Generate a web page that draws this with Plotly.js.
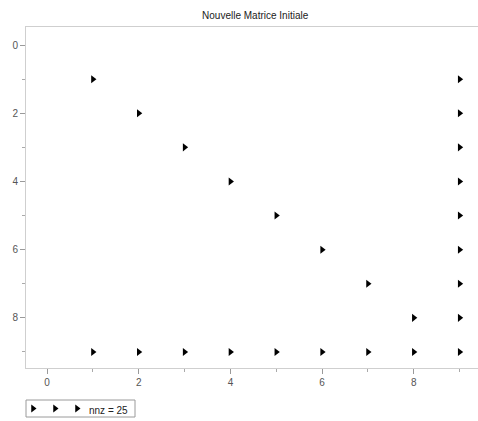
<!DOCTYPE html>
<html>
<head>
<meta charset="utf-8">
<script src="https://cdn.plot.ly/plotly-3.0.1.min.js"></script>
<style>html,body{margin:0;padding:0;background:#fff;}#chart{width:478px;height:421px;}</style>
</head>
<body>
<div id="chart"></div>
<script>
// Nonzero entries (column index, row index)
const cols = [1,2,3,4,5,6,7,8, 9,9,9,9,9,9,9,9,9, 1,2,3,4,5,6,7,8];
const rows = [1,2,3,4,5,6,7,8, 1,2,3,4,5,6,7,8,9, 9,9,9,9,9,9,9,9];
const titleText = 'Nouvelle Matrice Initiale';
const legendLabel = 'nnz = ' + cols.length;
const legendGlyphs = [0,1,2];
const xTickVals = [0,2,4,6,8];
const yTickVals = [0,2,4,6,8];

const W = 478, H = 421;
const mL = 26, mR = 0, mT = 27, mB = 4;
const plotW = W - mL - mR, plotH = H - mT - mB;
const mainBottomPx = 368, legTopPx = 400, legBotPx = 417, legRightPx = 135;

const font = 'Liberation Sans, Arial, sans-serif';

const traces = [
  {
    type: 'scatter', mode: 'markers', x: cols, y: rows,
    marker: {symbol: 'triangle-right', size: 7, color: '#000'},
    xaxis: 'x', yaxis: 'y', showlegend: false, hoverinfo: 'x+y'
  },
  {
    type: 'scatter', mode: 'markers', x: legendGlyphs, y: legendGlyphs.map(() => 0),
    marker: {symbol: 'triangle-right', size: 7, color: '#000'},
    xaxis: 'x2', yaxis: 'y2', showlegend: false, hoverinfo: 'skip'
  }
];

const axisCommon = {
  showgrid: false, zeroline: false, showline: true, linecolor: '#cfcfcf', linewidth: 1,
  ticks: 'outside', ticklen: 5, tickcolor: '#9a9a9a', tickwidth: 1,
  tickfont: {family: font, size: 10, color: '#555'},
  tickmode: 'array'
};

const layout = {
  width: W, height: H,
  margin: {l: mL, r: mR, t: mT, b: mB, pad: 0},
  paper_bgcolor: '#fff', plot_bgcolor: '#fff',
  showlegend: false,
  title: {text: titleText, font: {family: font, size: 10, color: '#222'},
          x: 0.507, xanchor: 'center', y: 1 - 15/H, yanchor: 'middle', xref: 'paper', yref: 'container'},
  xaxis: Object.assign({}, axisCommon, {
    range: [-0.46, 9.4], domain: [0, 1], anchor: 'y', mirror: true,
    tickvals: xTickVals, ticktext: xTickVals.map(String),
    minor: {tickmode: 'linear', tick0: 1, dtick: 2, ticklen: 3, tickcolor: '#aaaaaa', ticks: 'outside', showgrid: false}
  }),
  yaxis: Object.assign({}, axisCommon, {
    range: [9.47, -0.53], domain: [(legBotPx - mainBottomPx)/plotH, 1], anchor: 'x',
    tickvals: yTickVals, ticktext: yTickVals.map(String),
    minor: {tickmode: 'linear', tick0: 1, dtick: 2, ticklen: 3, tickcolor: '#aaaaaa', ticks: 'outside', showgrid: false}
  }),
  xaxis2: {domain: [0, (legRightPx - mL)/plotW], range: [-7/22, (legRightPx - mL - 7)/22], anchor: 'y2',
           visible: false, fixedrange: true},
  yaxis2: {domain: [0, (legBotPx - legTopPx)/plotH], range: [-1, 1], anchor: 'x2', visible: false, fixedrange: true},
  shapes: [{type: 'rect', xref: 'paper', yref: 'paper', x0: 0, x1: (legRightPx - mL)/plotW,
            y0: 0, y1: (legBotPx - legTopPx)/plotH, line: {color: '#9a9a9a', width: 1}, fillcolor: 'rgba(0,0,0,0)'}],
  annotations: [{text: legendLabel, xref: 'paper', yref: 'paper', x: (87 - mL)/plotW, xanchor: 'left',
                 y: (legBotPx - 410)/plotH, yanchor: 'middle', showarrow: false,
                 font: {family: font, size: 10, color: '#222'}}]
};

Plotly.newPlot('chart', traces, layout, {displayModeBar: false, staticPlot: true});
</script>
</body>
</html>
